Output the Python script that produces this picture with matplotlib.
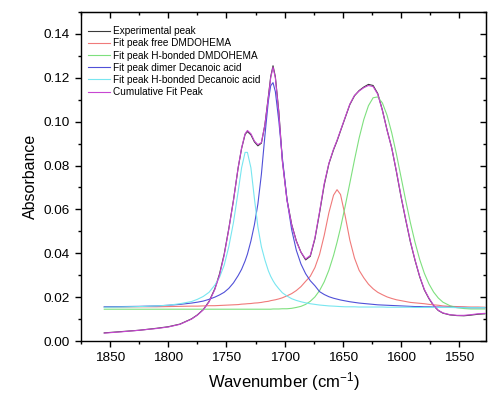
import matplotlib
matplotlib.use('Agg')
import matplotlib.pyplot as plt
from matplotlib.ticker import MultipleLocator, FormatStrFormatter

plt.rcParams['font.family'] = ['Liberation Sans', 'DejaVu Sans']
plt.rcParams['mathtext.default'] = 'regular'

# wavenumber grid (cm-1) shared by all curves
wavenumber = [1855, 1840, 1825, 1810, 1800, 1790, 1780, 1775, 1770, 1765,
              1760, 1756, 1752, 1748, 1744, 1740, 1737, 1734, 1732, 1729,
              1726, 1723, 1720, 1717, 1714, 1712, 1710, 1708, 1705, 1702,
              1698, 1694, 1690, 1686, 1682, 1678, 1674, 1670, 1666, 1662,
              1658, 1655, 1652, 1648, 1644, 1640, 1636, 1632, 1628, 1624,
              1620, 1616, 1612, 1608, 1604, 1600, 1596, 1592, 1588, 1584,
              1580, 1576, 1572, 1568, 1564, 1558, 1552, 1546, 1540, 1534,
              1528]

experimental = [0.0037, 0.0043, 0.0049, 0.0058, 0.0065, 0.0077, 0.0101, 0.0119, 0.0143, 0.0180,
                0.0238, 0.0305, 0.0395, 0.0512, 0.0642, 0.0788, 0.0878, 0.0942, 0.0955, 0.0940,
                0.0908, 0.0890, 0.0902, 0.0985, 0.1115, 0.1205, 0.1255, 0.1205, 0.1045, 0.0825,
                0.0645, 0.0532, 0.0457, 0.0405, 0.0370, 0.0386, 0.0466, 0.0585, 0.0712, 0.0808,
                0.0872, 0.0912, 0.0958, 0.1018, 0.1078, 0.1118, 0.1142, 0.1158, 0.1170, 0.1165,
                0.1128, 0.1052, 0.0962, 0.0880, 0.0772, 0.0657, 0.0552, 0.0452, 0.0368, 0.0293,
                0.0233, 0.0193, 0.0161, 0.0139, 0.0127, 0.0119, 0.0116, 0.0115, 0.0118, 0.0122,
                0.0124]

free_dmdohema = [0.0155, 0.0155, 0.0156, 0.0156, 0.0157, 0.0158, 0.0159, 0.0159, 0.0160, 0.0161,
                 0.0161, 0.0162, 0.0163, 0.0164, 0.0165, 0.0166, 0.0168, 0.0169, 0.0170, 0.0171,
                 0.0173, 0.0174, 0.0176, 0.0179, 0.0181, 0.0184, 0.0186, 0.0188, 0.0192, 0.0197,
                 0.0206, 0.0216, 0.0230, 0.0248, 0.0272, 0.0295, 0.0335, 0.0395, 0.0482, 0.0585,
                 0.0665, 0.0690, 0.0668, 0.0570, 0.0460, 0.0378, 0.0322, 0.0288, 0.0259, 0.0238,
                 0.0222, 0.0211, 0.0201, 0.0194, 0.0188, 0.0184, 0.0180, 0.0176, 0.0174, 0.0172,
                 0.0170, 0.0167, 0.0165, 0.0163, 0.0160, 0.0158, 0.0157, 0.0156, 0.0155, 0.0155,
                 0.0154]

hbond_dmdohema = [0.0145, 0.0145, 0.0145, 0.0145, 0.0145, 0.0145, 0.0145, 0.0145, 0.0145, 0.0145,
                  0.0145, 0.0145, 0.0145, 0.0145, 0.0145, 0.0145, 0.0145, 0.0145, 0.0145, 0.0145,
                  0.0145, 0.0145, 0.0145, 0.0145, 0.0145, 0.0145, 0.0146, 0.0146, 0.0146, 0.0147,
                  0.0147, 0.0149, 0.0153, 0.0158, 0.0167, 0.0181, 0.0201, 0.0230, 0.0270, 0.0323,
                  0.0390, 0.0450, 0.0516, 0.0615, 0.0720, 0.0826, 0.0926, 0.1010, 0.1073, 0.1109,
                  0.1113, 0.1085, 0.1029, 0.0949, 0.0853, 0.0747, 0.0641, 0.0540, 0.0450, 0.0372,
                  0.0309, 0.0260, 0.0223, 0.0196, 0.0177, 0.0161, 0.0152, 0.0148, 0.0146, 0.0146,
                  0.0146]

dimer_decanoic = [0.0156, 0.0157, 0.0158, 0.0160, 0.0163, 0.0167, 0.0173, 0.0177, 0.0182, 0.0190,
                  0.0200, 0.0210, 0.0222, 0.0240, 0.0265, 0.0298, 0.0327, 0.0365, 0.0396, 0.0456,
                  0.0530, 0.0625, 0.0760, 0.0935, 0.1095, 0.1164, 0.1178, 0.1137, 0.1002, 0.0836,
                  0.0645, 0.0508, 0.0414, 0.0351, 0.0307, 0.0275, 0.0252, 0.0225, 0.0212, 0.0202,
                  0.0195, 0.0191, 0.0187, 0.0183, 0.0179, 0.0176, 0.0173, 0.0171, 0.0169, 0.0167,
                  0.0165, 0.0164, 0.0163, 0.0162, 0.0161, 0.0160, 0.0159, 0.0158, 0.0157, 0.0157,
                  0.0156, 0.0156, 0.0155, 0.0155, 0.0154, 0.0154, 0.0153, 0.0153, 0.0152, 0.0152,
                  0.0152]

hbond_decanoic = [0.0154, 0.0155, 0.0157, 0.0160, 0.0163, 0.0170, 0.0180, 0.0190, 0.0203, 0.0222,
                  0.0255, 0.0290, 0.0345, 0.0430, 0.0540, 0.0680, 0.0790, 0.0860, 0.0860, 0.0790,
                  0.0650, 0.0520, 0.0430, 0.0370, 0.0320, 0.0295, 0.0275, 0.0258, 0.0238, 0.0220,
                  0.0205, 0.0193, 0.0185, 0.0179, 0.0174, 0.0170, 0.0167, 0.0164, 0.0162, 0.0160,
                  0.0159, 0.0158, 0.0157, 0.0156, 0.0156, 0.0156, 0.0155, 0.0155, 0.0155, 0.0155,
                  0.0155, 0.0155, 0.0154, 0.0154, 0.0154, 0.0154, 0.0154, 0.0154, 0.0153, 0.0153,
                  0.0153, 0.0153, 0.0153, 0.0153, 0.0153, 0.0153, 0.0152, 0.0152, 0.0152, 0.0152,
                  0.0152]

cumulative = [0.0036, 0.0042, 0.0049, 0.0057, 0.0064, 0.0076, 0.0100, 0.0118, 0.0142, 0.0178,
              0.0235, 0.0300, 0.0390, 0.0510, 0.0640, 0.0790, 0.0880, 0.0945, 0.0960, 0.0945,
              0.0912, 0.0895, 0.0905, 0.0985, 0.1110, 0.1200, 0.1248, 0.1200, 0.1040, 0.0820,
              0.0640, 0.0530, 0.0455, 0.0405, 0.0374, 0.0390, 0.0470, 0.0590, 0.0718, 0.0810,
              0.0875, 0.0915, 0.0960, 0.1020, 0.1080, 0.1120, 0.1140, 0.1155, 0.1165, 0.1160,
              0.1125, 0.1050, 0.0960, 0.0880, 0.0775, 0.0660, 0.0555, 0.0455, 0.0370, 0.0295,
              0.0235, 0.0195, 0.0163, 0.0140, 0.0128, 0.0120, 0.0117, 0.0117, 0.0120, 0.0124,
              0.0126]

series = [
    ('Experimental peak', experimental, '#3a3a3a'),
    ('Fit peak free DMDOHEMA', free_dmdohema, '#f07a7a'),
    ('Fit peak H-bonded DMDOHEMA', hbond_dmdohema, '#7ee07e'),
    ('Fit peak dimer Decanoic acid', dimer_decanoic, '#5050d8'),
    ('Fit peak H-bonded Decanoic acid', hbond_decanoic, '#78e6f0'),
    ('Cumulative Fit Peak', cumulative, '#c846d2'),
]

fig = plt.figure(figsize=(4.89, 3.94), dpi=100)
ax = fig.add_axes([0.1656, 0.1345, 0.8283, 0.835])

for label, values, color in series:
    ax.plot(wavenumber, values, color=color, lw=0.8, label=label)

ax.set_xlim(1875, 1527)
ax.set_ylim(0, 0.15)
ax.xaxis.set_major_locator(MultipleLocator(50))
ax.xaxis.set_minor_locator(MultipleLocator(25))
ax.yaxis.set_major_locator(MultipleLocator(0.02))
ax.yaxis.set_minor_locator(MultipleLocator(0.01))
ax.yaxis.set_major_formatter(FormatStrFormatter('%.2f'))
ax.tick_params(which='both', direction='out', labelsize=9.7, width=1)
ax.tick_params(which='major', length=4.5)
ax.tick_params(which='minor', length=2.5)
for s in ax.spines.values():
    s.set_linewidth(1.0)

# inward ticks on the top and right frame
top = ax.secondary_xaxis('top')
top.xaxis.set_major_locator(MultipleLocator(50))
top.xaxis.set_minor_locator(MultipleLocator(25))
top.tick_params(which='both', direction='in', labeltop=False, width=1)
top.tick_params(which='major', length=4.5)
top.tick_params(which='minor', length=2.5)
right = ax.secondary_yaxis('right')
right.yaxis.set_major_locator(MultipleLocator(0.02))
right.yaxis.set_minor_locator(MultipleLocator(0.01))
right.tick_params(which='both', direction='in', labelright=False, width=1)
right.tick_params(which='major', length=4.5)
right.tick_params(which='minor', length=2.5)

ax.set_xlabel('Wavenumber (cm$^{-1}$)', fontsize=12)
ax.set_ylabel('Absorbance', fontsize=11.5)

ax.legend(loc='upper left', bbox_to_anchor=(0.017, 0.957), frameon=False,
          fontsize=7.2, borderpad=0, borderaxespad=0, labelspacing=0.22,
          handlelength=2.2, handletextpad=0.3)

fig.savefig('out.png', dpi=100)
